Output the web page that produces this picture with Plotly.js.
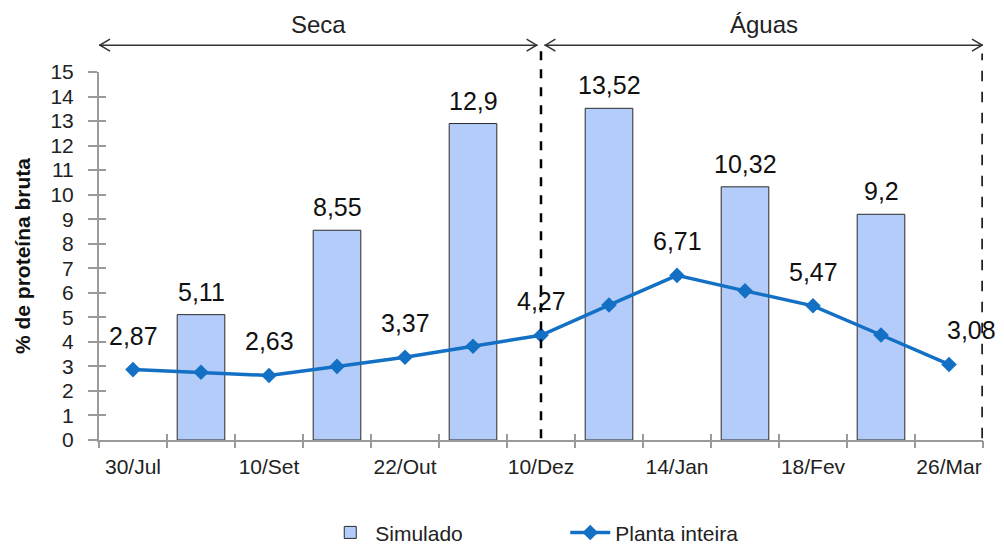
<!DOCTYPE html>
<html>
<head>
<meta charset="utf-8">
<script src="https://cdn.plot.ly/plotly-3.0.1.min.js"></script>
<style>
  body { margin: 0; background: #fff; }
  #chart { width: 1004px; height: 547px; }
</style>
</head>
<body>
<div id="chart"></div>
<script>
// sample number (13 harvests), only every other one has a date label
const amostras = [0, 1, 2, 3, 4, 5, 6, 7, 8, 9, 10, 11, 12];
const datas = ["30/Jul", "10/Set", "22/Out", "10/Dez", "14/Jan", "18/Fev", "26/Mar"];
const datasPos = [0, 2, 4, 6, 8, 10, 12];

// Plant protein (line)
const plantaInteira = [2.87, 2.76, 2.63, 3.0, 3.37, 3.82, 4.27, 5.5, 6.71, 6.08, 5.47, 4.28, 3.08];
const rotuloLinha = [true, false, true, false, true, false, true, false, true, false, true, false, true];

// Simulated (bars)
const simuladoPos = [1, 3, 5, 7, 9, 11];
const simulado = [5.11, 8.55, 12.9, 13.52, 10.32, 9.2];

// season split
const inicioAguas = 6;
const periodos = ["Seca", "Águas"];

const fonte = "Liberation Sans, Arial, sans-serif";
const fmt = (v) => String(v).replace(".", ",");

const xMin = amostras[0] - 0.5;
const xMax = amostras[amostras.length - 1] + 0.5;
const limites = amostras.map((a) => a - 0.5).concat([xMax]);

const traces = [
  {
    type: "bar",
    name: "Simulado",
    x: simuladoPos,
    y: simulado,
    width: 0.7,
    marker: { color: "#B3CCFA", line: { color: "#2b2b2b", width: 1 } },
    hoverinfo: "y",
  },
  {
    type: "scatter",
    mode: "lines+markers",
    name: "Planta inteira",
    x: amostras,
    y: plantaInteira,
    line: { color: "#1470C4", width: 3.5 },
    marker: { symbol: "diamond", size: 12, color: "#1470C4" },
  },
  // invisible traces that carry the inside tick marks
  { type: "scatter", x: [xMin], y: [0], xaxis: "x2", yaxis: "y2", showlegend: false, hoverinfo: "skip", mode: "markers", marker: { opacity: 0 } },
  { type: "scatter", x: [xMin], y: [0], xaxis: "x3", yaxis: "y", showlegend: false, hoverinfo: "skip", mode: "markers", marker: { opacity: 0 } },
];

const annotations = [];
amostras.forEach((a, i) => {
  if (!rotuloLinha[i]) return;
  annotations.push({
    x: a, y: plantaInteira[i], xref: "x", yref: "y",
    text: fmt(plantaInteira[i]), showarrow: false,
    yanchor: "middle", yshift: 34, xshift: i === amostras.length - 1 ? 22 : 0,
    font: { family: fonte, size: 25, color: "#111" },
  });
});
simuladoPos.forEach((p, i) => {
  annotations.push({
    x: p, y: simulado[i], xref: "x", yref: "y",
    text: fmt(simulado[i]), showarrow: false,
    yanchor: "middle", yshift: 23,
    font: { family: fonte, size: 25, color: "#111" },
  });
});

// season labels + arrows
const setaY = 1.073;
const trechos = [[xMin, inicioAguas - 0.05], [inicioAguas + 0.05, xMax]];
const shapes = [];
trechos.forEach((t, i) => {
  annotations.push({
    x: (t[0] + t[1]) / 2, y: 1.128, xref: "x", yref: "paper",
    text: periodos[i], showarrow: false, yanchor: "middle",
    font: { family: fonte, size: 24, color: "#222" },
  });
  shapes.push({ type: "line", xref: "x", yref: "paper", x0: t[0], x1: t[1], y0: setaY, y1: setaY,
    line: { color: "#333", width: 1.5 } });
  shapes.push({ type: "path", xref: "x", yref: "paper", xsizemode: "pixel", ysizemode: "pixel",
    xanchor: t[0], yanchor: setaY, path: "M 11 -6 L 1 0 L 11 6", line: { color: "#333", width: 1.5 } });
  shapes.push({ type: "path", xref: "x", yref: "paper", xsizemode: "pixel", ysizemode: "pixel",
    xanchor: t[1], yanchor: setaY, path: "M -11 -6 L -1 0 L -11 6", line: { color: "#333", width: 1.5 } });
});
shapes.push({ type: "line", xref: "x", yref: "paper", x0: inicioAguas, x1: inicioAguas, y0: 0.005, y1: 1.06,
  line: { color: "#000", width: 2.5, dash: "dash" }, layer: "above" });
shapes.push({ type: "line", xref: "x", yref: "paper", x0: xMax, x1: xMax, y0: 0.005, y1: 1.05,
  line: { color: "#222", width: 3.5, dash: "dash" }, layer: "above" });

const layout = {
  width: 1004,
  height: 547,
  margin: { l: 99, r: 21, t: 72, b: 107 },
  paper_bgcolor: "#fff",
  plot_bgcolor: "#fff",
  font: { family: fonte, color: "#222" },
  separators: ",.",
  showlegend: true,
  legend: {
    orientation: "h", x: 0.563, xanchor: "center", xref: "container",
    y: 0.026, yanchor: "middle", yref: "container",
    font: { family: fonte, size: 21, color: "#222" }, entrywidth: 185, itemwidth: 40,
  },
  xaxis: {
    range: [xMin, xMax],
    tickvals: datasPos,
    ticktext: datas,
    ticks: "",
    showline: true, linecolor: "#9a9a9a", linewidth: 2,
    showgrid: false, zeroline: false,
    tickfont: { family: fonte, size: 21, color: "#222" },
    ticklabelstandoff: 7,
    automargin: false,
  },
  xaxis2: {
    overlaying: "x", anchor: "y", range: [xMin, xMax],
    tickvals: limites, ticks: "outside", ticklen: 7, tickwidth: 2, tickcolor: "#9a9a9a",
    showticklabels: false, showgrid: false, zeroline: false, showline: false,
  },
  xaxis3: {
    overlaying: "x", anchor: "y", range: [xMin, xMax],
    tickvals: limites, ticks: "inside", ticklen: 6, tickwidth: 2, tickcolor: "#9a9a9a",
    showticklabels: false, showgrid: false, zeroline: false, showline: false,
  },
  yaxis: {
    range: [0, 15], dtick: 1,
    ticks: "outside", ticklen: 9, tickwidth: 2, tickcolor: "#9a9a9a",
    showline: true, linecolor: "#9a9a9a", linewidth: 2,
    showgrid: false, zeroline: false,
    tickfont: { family: fonte, size: 21, color: "#222" },
    ticklabelstandoff: 10,
    automargin: false,
    title: { text: "<b>% de proteína bruta</b>", font: { family: fonte, size: 21, color: "#111" }, standoff: 14 },
  },
  yaxis2: {
    overlaying: "y", anchor: "x", range: [0, 15], dtick: 1,
    ticks: "inside", ticklen: 7, tickwidth: 2, tickcolor: "#9a9a9a",
    showticklabels: false, showgrid: false, zeroline: false, showline: false,
  },
  annotations: annotations,
  shapes: shapes,
};

Plotly.newPlot("chart", traces, layout, { displayModeBar: false, staticPlot: true });
</script>
</body>
</html>
